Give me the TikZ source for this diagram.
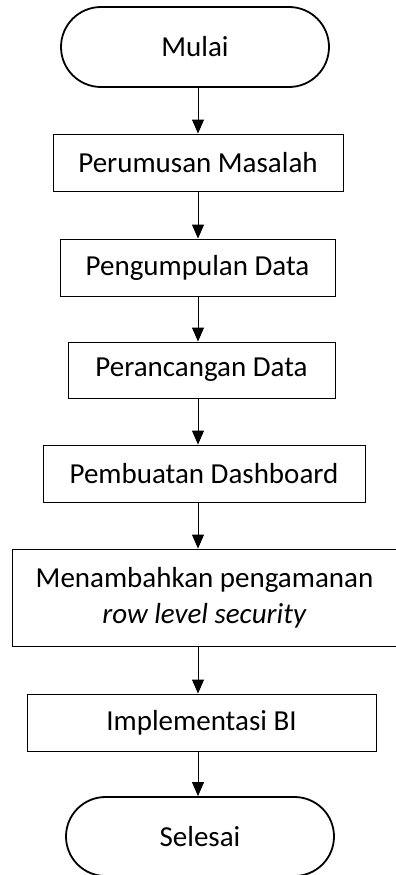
\documentclass[tikz,border=0pt]{standalone}
\usepackage{fontspec}
\setmainfont{Carlito}
\usetikzlibrary{shapes.misc,arrows.meta}

\begin{document}
\begin{tikzpicture}[x=1pt,y=-1pt,
  term/.style={draw,line width=1.8pt,rounded rectangle,inner sep=0pt},
  proc/.style={draw,line width=0.9pt,rectangle,inner sep=0pt,align=center},
  arr/.style={line width=0.9pt,-{Triangle[length=14pt,width=12pt]}},
  font=\fontsize{29}{36}\selectfont]
\useasboundingbox (0,0) rectangle (396,875);
\coordinate (axis) at (198,0);
% langkah-langkah
\node[term,minimum width=268pt,minimum height=80pt] (mulai) at (195,47) {Mulai};
\node[proc,minimum width=290pt,minimum height=57pt] (rumus) at (198,162.5) {Perumusan Masalah};
\node[proc,minimum width=275pt,minimum height=57pt] (kumpul) at (197.5,267.5) {Pengumpulan Data};
\node[proc,minimum width=267pt,minimum height=56pt] (rancang) at (201.5,370) {Perancangan Data};
\node[proc,minimum width=322pt,minimum height=57pt] (dash) at (204,473.5) {Pembuatan Dashboard};
\node[proc,minimum width=385pt,minimum height=97pt] (rls) at (204.5,597.5) {Menambahkan pengamanan\\\textit{row level security}};
\node[proc,minimum width=349pt,minimum height=57pt] (impl) at (201.5,722.5) {Implementasi BI};
\node[term,minimum width=268pt,minimum height=79pt] (selesai) at (200,836.5) {Selesai};
% panah
\draw[arr] (mulai.south -| axis) -- (rumus.north -| axis);
\draw[arr] (rumus.south -| axis) -- (kumpul.north -| axis);
\draw[arr] (kumpul.south -| axis) -- (rancang.north -| axis);
\draw[arr] (rancang.south -| axis) -- (dash.north -| axis);
\draw[arr] (dash.south -| axis) -- (rls.north -| axis);
\draw[arr] (rls.south -| axis) -- (impl.north -| axis);
\draw[arr] (impl.south -| axis) -- (selesai.north -| axis);
\end{tikzpicture}
\end{document}
